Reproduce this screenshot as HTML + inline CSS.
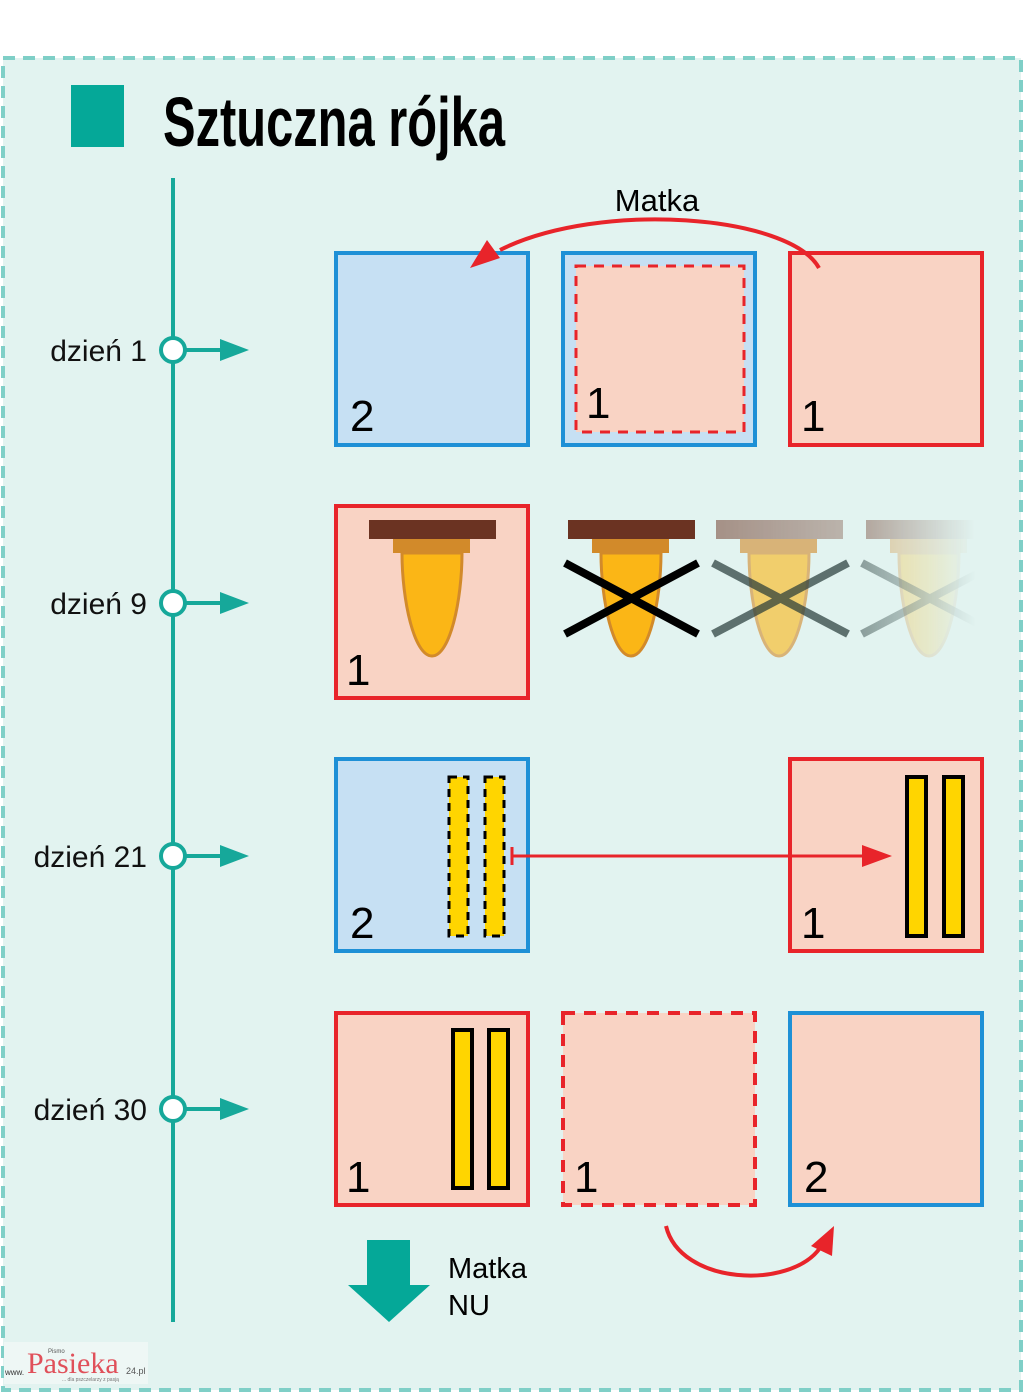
<!DOCTYPE html>
<html><head><meta charset="utf-8"><style>html,body{margin:0;padding:0;background:#fff}svg{display:block}</style></head>
<body>
<svg width="1024" height="1394" viewBox="0 0 1024 1394" xmlns="http://www.w3.org/2000/svg" font-family="Liberation Sans, sans-serif">
<defs>
<linearGradient id="fade3" x1="0" x2="1"><stop offset="0" stop-color="#6b3322" stop-opacity="0.85"/><stop offset="1" stop-color="#6b3322" stop-opacity="0.55"/></linearGradient>
<linearGradient id="mg" x1="0" x2="1"><stop offset="0" stop-color="#fff" stop-opacity="1"/><stop offset="1" stop-color="#fff" stop-opacity="0"/></linearGradient>
<mask id="m4" maskUnits="userSpaceOnUse" x="850" y="500" width="130" height="170"><rect x="850" y="500" width="125" height="170" fill="url(#mg)"/></mask>
</defs>
<rect x="0" y="0" width="1024" height="1394" fill="#fff"/>
<rect x="3" y="58" width="1018" height="1332" fill="#e2f3f0" stroke="#7fcfc7" stroke-width="4" stroke-dasharray="12,8"/>
<rect x="71" y="85" width="53" height="62" fill="#05a898"/>
<text x="163" y="146" font-family="Liberation Sans Narrow, Liberation Sans, sans-serif" font-weight="bold" font-size="70" textLength="342" lengthAdjust="spacingAndGlyphs" fill="#000">Sztuczna rójka</text>

<line x1="173" y1="178" x2="173" y2="1322" stroke="#16a89a" stroke-width="4"/>
<g stroke="#16a89a" stroke-width="4" fill="#fff">
<circle cx="173" cy="350" r="12"/><circle cx="173" cy="603" r="12"/><circle cx="173" cy="856" r="12"/><circle cx="173" cy="1109" r="12"/>
</g>
<g stroke="#16a89a" stroke-width="4">
<line x1="185" y1="350" x2="225" y2="350"/><line x1="185" y1="603" x2="225" y2="603"/><line x1="185" y1="856" x2="225" y2="856"/><line x1="185" y1="1109" x2="225" y2="1109"/>
</g>
<g fill="#16a89a">
<polygon points="220,339 249,350 220,361"/><polygon points="220,592 249,603 220,614"/><polygon points="220,845 249,856 220,867"/><polygon points="220,1098 249,1109 220,1120"/>
</g>
<g font-size="30" fill="#111" text-anchor="end">
<text x="147" y="361">dzień 1</text><text x="147" y="614">dzień 9</text><text x="147" y="867">dzień 21</text><text x="147" y="1120">dzień 30</text>
</g>

<!-- row1 -->
<rect x="336" y="253" width="192" height="192" fill="#c6e0f3" stroke="#1e90d6" stroke-width="4"/>
<rect x="563" y="253" width="192" height="192" fill="#c6e0f3" stroke="#1e90d6" stroke-width="4"/>
<rect x="576" y="266" width="168" height="166" fill="#f9d3c4" stroke="#e8242a" stroke-width="3" stroke-dasharray="10,8"/>
<rect x="790" y="253" width="192" height="192" fill="#f9d3c4" stroke="#e8242a" stroke-width="4"/>
<g font-size="44" fill="#000"><text x="350" y="431">2</text><text x="586" y="418">1</text><text x="801" y="431">1</text></g>
<path d="M819,268 C790,215 600,200 500,250" fill="none" stroke="#e8242a" stroke-width="4"/>
<polygon points="470,268 487,240 500,258" fill="#e8242a"/>
<text x="657" y="211" font-size="31" text-anchor="middle" fill="#000">Matka</text>

<!-- row2 -->
<rect x="336" y="506" width="192" height="192" fill="#f9d3c4" stroke="#e8242a" stroke-width="4"/>
<text x="346" y="685" font-size="44" fill="#000">1</text>
<g>
<rect x="369" y="520" width="127" height="19" fill="#6b3322"/>
<rect x="393" y="539" width="77" height="14" fill="#d28a2a"/>
<path d="M402,553 L462,553 C462,600 450,656 432,656 C414,656 402,600 402,553 Z" fill="#fbb616" stroke="#d28a2a" stroke-width="3"/>
</g>
<g transform="translate(199,0)">
<rect x="369" y="520" width="127" height="19" fill="#6b3322"/>
<rect x="393" y="539" width="77" height="14" fill="#d28a2a"/>
<path d="M402,553 L462,553 C462,600 450,656 432,656 C414,656 402,600 402,553 Z" fill="#fbb616" stroke="#d28a2a" stroke-width="3"/>
</g>
<g stroke="#000" stroke-width="8"><line x1="565" y1="563" x2="698" y2="634"/><line x1="565" y1="634" x2="698" y2="563"/></g>
<g transform="translate(347,0)" opacity="0.6">
<rect x="369" y="520" width="127" height="19" fill="url(#fade3)"/>
<rect x="393" y="539" width="77" height="14" fill="#d28a2a"/>
<path d="M402,553 L462,553 C462,600 450,656 432,656 C414,656 402,600 402,553 Z" fill="#fbb616" stroke="#d28a2a" stroke-width="3"/>
</g>
<g stroke="#253a38" stroke-width="8" opacity="0.7"><line x1="713" y1="563" x2="848" y2="634"/><line x1="713" y1="634" x2="848" y2="563"/></g>
<g mask="url(#m4)">
<g transform="translate(497,0)" opacity="0.45">
<rect x="369" y="520" width="127" height="19" fill="#6b3322"/>
<rect x="393" y="539" width="77" height="14" fill="#d28a2a"/>
<path d="M402,553 L462,553 C462,600 450,656 432,656 C414,656 402,600 402,553 Z" fill="#fbb616" stroke="#d28a2a" stroke-width="3"/>
</g>
<g stroke="#253a38" stroke-width="8" opacity="0.5"><line x1="862" y1="563" x2="990" y2="630"/><line x1="862" y1="634" x2="990" y2="567"/></g>
</g>

<!-- row3 -->
<rect x="336" y="759" width="192" height="192" fill="#c6e0f3" stroke="#1e90d6" stroke-width="4"/>
<rect x="449" y="777" width="19" height="159" fill="#ffd500" stroke="#000" stroke-width="3" stroke-dasharray="8,6"/>
<rect x="485" y="777" width="19" height="159" fill="#ffd500" stroke="#000" stroke-width="3" stroke-dasharray="8,6"/>
<text x="350" y="938" font-size="44" fill="#000">2</text>
<rect x="790" y="759" width="192" height="192" fill="#f9d3c4" stroke="#e8242a" stroke-width="4"/>
<rect x="907" y="777" width="19" height="159" fill="#ffd500" stroke="#000" stroke-width="4"/>
<rect x="944" y="777" width="19" height="159" fill="#ffd500" stroke="#000" stroke-width="4"/>
<text x="801" y="938" font-size="44" fill="#000">1</text>
<line x1="512" y1="856" x2="870" y2="856" stroke="#e8242a" stroke-width="3"/>
<line x1="512" y1="847" x2="512" y2="865" stroke="#e8242a" stroke-width="3"/>
<polygon points="862,845 892,856 862,867" fill="#e8242a"/>

<!-- row4 -->
<rect x="336" y="1013" width="192" height="192" fill="#f9d3c4" stroke="#e8242a" stroke-width="4"/>
<rect x="453" y="1030" width="19" height="158" fill="#ffd500" stroke="#000" stroke-width="4"/>
<rect x="489" y="1030" width="19" height="158" fill="#ffd500" stroke="#000" stroke-width="4"/>
<text x="346" y="1192" font-size="44" fill="#000">1</text>
<rect x="563" y="1013" width="192" height="192" fill="#f9d3c4" stroke="#e8242a" stroke-width="4" stroke-dasharray="12,9"/>
<text x="574" y="1192" font-size="44" fill="#000">1</text>
<rect x="790" y="1013" width="192" height="192" fill="#f9d3c4" stroke="#1e90d6" stroke-width="4"/>
<text x="804" y="1192" font-size="44" fill="#000">2</text>
<path d="M666,1226 C680,1285 790,1290 820,1248" fill="none" stroke="#e8242a" stroke-width="4"/>
<polygon points="834,1226 832,1256 811,1246" fill="#e8242a"/>

<polygon points="367,1240 410,1240 410,1285 430,1285 389,1322 348,1285 367,1285" fill="#05a898"/>
<text x="448" y="1278" font-size="29" fill="#000">Matka</text>
<text x="448" y="1315" font-size="29" fill="#000">NU</text>

<rect x="4" y="1342" width="144" height="42" fill="#eef7f5"/>
<text x="5" y="1375" font-size="8" fill="#333">www.</text>
<text x="27" y="1373" font-family="Liberation Serif, serif" font-size="30" fill="#e0505a">Pasieka</text>
<text x="126" y="1374" font-size="9" fill="#555">24.pl</text>
<text x="48" y="1353" font-size="6" fill="#555">Pismo</text>
<text x="62" y="1381" font-size="5" fill="#777">... dla pszczelarzy z pasją</text>
</svg>
</body></html>
